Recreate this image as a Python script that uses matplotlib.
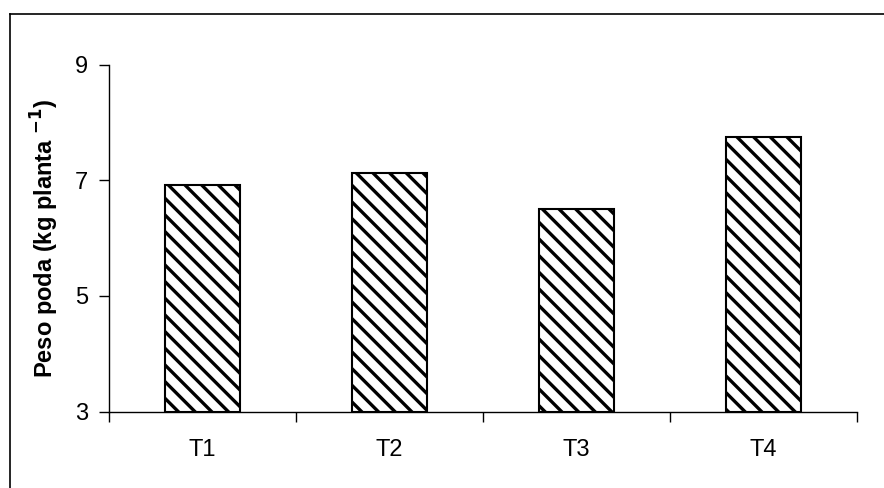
import matplotlib
matplotlib.use("Agg")
import matplotlib.pyplot as plt
from matplotlib.lines import Line2D

categories = ["T1", "T2", "T3", "T4"]
peso_poda = [6.92, 7.13, 6.51, 7.76]
y_ticks = [3, 5, 7, 9]

plt.rcParams["font.family"] = ["Liberation Sans", "DejaVu Sans"]
plt.rcParams["hatch.linewidth"] = 2.4
plt.rcParams["hatch.color"] = "black"

W, H = 884, 488
fig = plt.figure(figsize=(W / 100, H / 100), dpi=100)
ax = fig.add_axes([109 / W, (H - 411.5) / H, (857 - 109) / W, (411.5 - 65) / H])

x = list(range(len(categories)))
ax.bar(x, [v - 3 for v in peso_poda], bottom=3, width=0.405,
       color="white", edgecolor="black", linewidth=1.5, hatch="\\\\")

ax.set_xlim(-0.5, len(categories) - 0.5)
ax.set_ylim(3, 9)
ax.set_yticks(y_ticks)
ax.set_yticklabels([str(t) for t in y_ticks], fontsize=17)
ax.set_xticks([i - 0.5 for i in range(len(categories) + 1)], minor=False)
ax.set_xticklabels([])
ax.set_xticks(x, minor=True)
ax.set_xticklabels(categories, minor=True, fontsize=17)
ax.tick_params(axis="x", which="minor", length=0, pad=20)
ax.tick_params(axis="x", which="major", direction="out", length=7, width=1)
ax.tick_params(axis="y", direction="out", length=7, width=1, pad=8)

for s in ["top", "right"]:
    ax.spines[s].set_visible(False)
for s in ["left", "bottom"]:
    ax.spines[s].set_linewidth(1)

ax.set_ylabel("Peso poda (kg planta $^{\\mathbf{-1}}$)", fontsize=17,
              fontweight="bold", labelpad=10)

# outer frame (runs off the right and bottom edges)
fig.add_artist(Line2D([10 / W, 10 / W], [0, (H - 14) / H], color="black", lw=1.2,
                      transform=fig.transFigure))
fig.add_artist(Line2D([10 / W, 1], [(H - 14) / H, (H - 14) / H], color="black", lw=1.2,
                      transform=fig.transFigure))

fig.savefig("out.png", dpi=100)
